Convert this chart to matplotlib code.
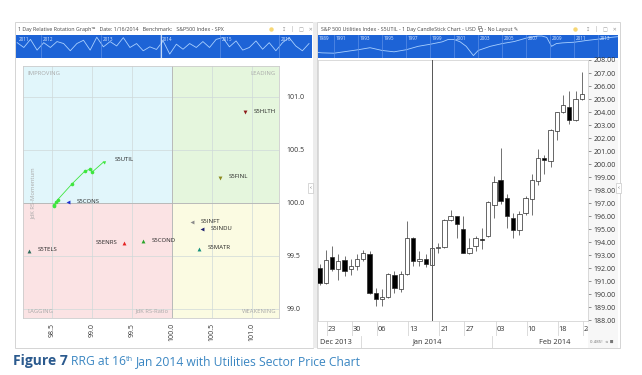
import numpy as np
import pandas as pd
import matplotlib.pyplot as plt
from matplotlib.patches import Rectangle

plt.rcParams['font.family'] = ['Open Sans', 'DejaVu Sans']

W, H = 642, 375

# ---- RRG on 16 Jan 2014 (benchmark S&P 500) ----
sectors = ["S5HLTH", "S5FINL", "S5CONS", "S5INFT", "S5INDU",
           "S5ENRS", "S5COND", "S5MATR", "S5TELS"]
rs_ratio = [100.91, 100.60, 98.70, 100.25, 100.38, 99.40, 99.64, 100.34, 98.21]
rs_momentum = [100.86, 100.24, 100.01, 99.82, 99.75, 99.62, 99.64, 99.57, 99.55]
sector_colors = ["#8e1c1c", "#8c8a1e", "#1f2fd0", "#8a8a8a", "#1d1f6e",
                 "#e52222", "#2aa52a", "#14907c", "#2d6b5c"]
sector_markers = ["v", "v", "<", "<", "<", "^", "^", "^", "^"]

# S5UTIL tail, oldest -> newest
util_ratio = [98.52, 98.53, 98.55, 98.57, 98.75, 98.91, 98.98, 99.00, 99.15]
util_momentum = [99.97, 99.98, 100.01, 100.03, 100.18, 100.30, 100.32, 100.29, 100.39]

# ---- S5UTIL daily candles ----
dates = ["2013-12-19", "2013-12-20", "2013-12-23", "2013-12-24", "2013-12-26",
         "2013-12-27", "2013-12-30", "2013-12-31", "2014-01-02", "2014-01-03",
         "2014-01-06", "2014-01-07", "2014-01-08", "2014-01-09", "2014-01-10",
         "2014-01-13", "2014-01-14", "2014-01-15", "2014-01-16", "2014-01-17",
         "2014-01-21", "2014-01-22", "2014-01-23", "2014-01-24", "2014-01-27",
         "2014-01-28", "2014-01-29", "2014-01-30", "2014-01-31", "2014-02-03",
         "2014-02-04", "2014-02-05", "2014-02-06", "2014-02-07", "2014-02-10",
         "2014-02-11", "2014-02-12", "2014-02-13", "2014-02-14", "2014-02-18",
         "2014-02-19", "2014-02-20", "2014-02-21"]
opens = [192.05, 190.85, 192.87, 191.92, 192.64, 191.92, 192.18, 192.69, 193.08, 190.12,
         189.66, 189.79, 191.46, 190.38, 191.54, 194.31, 192.56, 192.74, 192.25, 193.55,
         193.60, 195.72, 195.98, 195.00, 193.20, 193.72, 194.25, 194.45, 196.85, 198.77,
         197.43, 195.85, 194.92, 196.28, 197.31, 198.72, 200.51, 200.25, 202.56, 203.97,
         204.36, 203.38, 205.00]
highs = [192.30, 193.40, 193.69, 193.08, 192.95, 192.74, 193.08, 193.41, 193.30, 190.50,
         190.40, 191.60, 191.79, 191.80, 195.64, 194.40, 193.33, 193.12, 193.65, 193.97,
         195.80, 196.50, 196.00, 196.00, 194.35, 194.50, 195.08, 197.20, 199.10, 201.23,
         197.70, 196.28, 196.41, 197.55, 199.23, 201.15, 200.69, 202.70, 204.00, 205.31,
         205.64, 205.64, 207.05]
lows = [190.70, 190.80, 191.80, 191.08, 191.41, 191.46, 191.89, 192.54, 190.00, 189.10,
        189.10, 189.70, 190.07, 190.20, 191.50, 192.18, 192.18, 192.10, 192.20, 193.20,
        193.55, 195.60, 194.30, 193.15, 193.08, 193.33, 193.46, 194.40, 195.90, 196.90,
        195.12, 194.35, 194.54, 196.10, 196.10, 198.41, 199.23, 199.79, 201.85, 203.90,
        203.08, 203.30, 204.95]
closes = [190.85, 192.62, 191.92, 192.59, 191.79, 192.18, 192.69, 193.15, 190.12, 189.62,
          189.79, 191.54, 190.50, 191.54, 194.31, 192.56, 192.70, 192.35, 193.54, 193.60,
          195.72, 196.00, 195.38, 193.20, 193.59, 194.35, 194.20, 197.10, 198.66, 197.18,
          196.00, 194.92, 196.15, 197.43, 198.77, 200.51, 200.31, 202.62, 203.97, 204.54,
          203.38, 205.00, 205.38]
rrg_date = "2014-01-16"

# ---- navigator strips ----
rrg_nav = [0.70, 0.48, 0.85, 0.36, 0.70, 0.48, 0.75, 0.66, 0.33, 0.66, 0.81, 0.36,
           0.95, 0.51, 0.75, 0.55, 0.93, 0.48, 0.66, 0.33, 0.51, 0.39, 0.78, 0.18,
           0.63, 0.40, 0.66, 0.48, 0.75, 0.48, 0.85, 0.93, 0.51, 0.78, 0.36, 0.48,
           0.78, 0.40, 0.70, 0.33, 0.70, 0.93, 0.55, 0.33, 0.66]
rrg_nav_years = ["2011", "2012", "2013", "2014", "2015", "2016"]
util_nav_years = [1989.7, 1990, 1991, 1992, 1993, 1994, 1995, 1996, 1997, 1998, 1999,
                  2000, 2000.5, 2001, 2001.5, 2002, 2002.6, 2003, 2004, 2005, 2006,
                  2007, 2007.9, 2008.3, 2008.7, 2009.1, 2009.5, 2010, 2011, 2012,
                  2013, 2014, 2014.6]
util_nav_level = [16, 15, 14, 19, 24, 30, 22, 18, 24, 34, 40, 47, 54, 54, 47, 34, 7,
                  22, 34, 42, 48, 58, 64, 64, 60, 34, 42, 44, 46, 51, 55, 60, 62]

fig = plt.figure(figsize=(W / 100, H / 100), dpi=100)
bg = fig.add_axes([0, 0, 1, 1], zorder=-5)
bg.set_xlim(0, W)
bg.set_ylim(H, 0)
bg.axis("off")
r = fig.canvas.get_renderer()


def px_axes(x0, y0, x1, y1, **kw):
    return fig.add_axes([x0 / W, 1 - y1 / H, (x1 - x0) / W, (y1 - y0) / H], **kw)


# window frames
bg.add_patch(Rectangle((15, 22), 298, 326, fc="white", ec="#d4d4d4", lw=0.7))
bg.add_patch(Rectangle((317, 22), 303, 326, fc="white", ec="#d4d4d4", lw=0.7))
bg.add_patch(Rectangle((313, 22), 4, 326, fc="#ececec", ec="none"))

title_kw = dict(fontsize=3.8, color="#444444", va="center")
bg.text(18, 29, "1 Day Relative Rotation Graph\u2122   Date: 1/16/2014   Benchmark:   S&P500 Index - SPX", **title_kw)
t = bg.text(321, 29, "S&P 500 Utilities Index - S5UTIL - 1 Day CandleStick Chart - USD ", **title_kw)
tx = 321 + t.get_window_extent(renderer=r).width + 1
# small copy icon (the glyph is not in any installed font)
bg.add_patch(Rectangle((tx, 26.2), 2.4, 3.2, fc="none", ec="#555555", lw=0.4))
bg.add_patch(Rectangle((tx + 1.2, 27.6), 2.4, 3.2, fc="white", ec="#555555", lw=0.4))
bg.text(tx + 4.5, 29, " - No Layout \u270E", **title_kw)
for x0 in (271, 575):
    bg.plot(x0, 29, "o", ms=3.2, color="#f7d774", mec="none")
    bg.text(x0 + 11, 29, "\u21a7   \u2502   \u25a1   \u2715", fontsize=3.6, color="#9a9a9a",
            va="center", family="DejaVu Sans")

# ---- RRG navigator ----
nav1 = px_axes(16, 35, 312, 58)
nav1.set_facecolor("#1d63d6")
nx = np.linspace(2011.6, 2016.5, len(rrg_nav))
nav1.plot(nx, rrg_nav, color="#a9d0ff", lw=0.6)
nav1.set_xlim(2011.58, 2016.55)
nav1.set_ylim(0, 1.05)
for yr in rrg_nav_years:
    xv = max(int(yr), 2011.6)
    if int(yr) >= 2012:
        nav1.axvline(int(yr), color="#5b8fe6", lw=0.5)
    nav1.text(xv + 0.03, 0.98, yr, fontsize=3.3, color="#d8e8ff", va="top")
nav1.axvline(2014.02, color="#e8f2ff", lw=0.8, alpha=0.8)
nav1.set_xticks([])
nav1.set_yticks([])
for s in nav1.spines.values():
    s.set_visible(False)

# ---- RRG plot ----
rrg = px_axes(23, 66, 279, 318)
rrg.set_xlim(98.1375, 101.3375)
rrg.set_ylim(98.915, 101.292)
x0, x1 = rrg.get_xlim()
y0, y1 = rrg.get_ylim()
quads = [(x0, 100, "#e1f6fb"), (100, 100, "#e5f6dd"), (x0, y0, "#fbe3e4"), (100, y0, "#fbfbe2")]
for qx, qy, qc in quads:
    wq = (100 - x0) if qx == x0 else (x1 - 100)
    hq = (y1 - 100) if qy == 100 else (100 - y0)
    rrg.add_patch(Rectangle((qx, qy), wq, hq, fc=qc, ec="none", zorder=0))
rrg.set_xticks([98.5, 99.0, 99.5, 100.0, 100.5, 101.0])
rrg.set_yticks([99.0, 99.5, 100.0, 100.5, 101.0])
rrg.grid(color="#cfd9d9", lw=0.5, zorder=1)
rrg.set_axisbelow(True)
rrg.axvline(100, color="#b4b4b4", lw=0.6, zorder=1.5)
rrg.axhline(100, color="#b4b4b4", lw=0.6, zorder=1.5)
rrg.yaxis.tick_right()
rrg.xaxis.set_major_formatter(lambda v, p: f"{v:.1f}")
rrg.yaxis.set_major_formatter(lambda v, p: f"{v:.1f}")
rrg.tick_params(axis="x", length=0, pad=3.5, labelsize=5, labelrotation=90, labelcolor="#333333")
rrg.tick_params(axis="y", length=0, pad=5.5, labelsize=5, labelcolor="#333333")
for s in rrg.spines.values():
    s.set_color("#cccccc")
    s.set_linewidth(0.6)

ql = dict(fontsize=4.2, color="#a9a9a9", transform=rrg.transAxes, va="center")
rrg.text(0.018, 0.972, "IMPROVING", ha="left", **ql)
rrg.text(0.988, 0.972, "LEADING", ha="right", **ql)
rrg.text(0.018, 0.024, "LAGGING", ha="left", **ql)
rrg.text(0.988, 0.024, "WEAKENING", ha="right", **ql)
rrg.text(0.504, 0.028, "JdK RS-Ratio", ha="center", **ql)
rrg.text(0.039, 0.496, "JdK RS-Momentum", ha="center", rotation=90, **ql)

# utilities tail
rrg.plot(util_ratio, util_momentum, color="#3ee63e", lw=0.6, zorder=3)
rrg.plot(util_ratio[:-1], util_momentum[:-1], "o", color="#3ee63e", ms=2.6, mec="none", zorder=4)
p_prev = rrg.transData.transform((util_ratio[-2], util_momentum[-2]))
p_head = rrg.transData.transform((util_ratio[-1], util_momentum[-1]))
ang = np.degrees(np.arctan2(p_head[1] - p_prev[1], p_head[0] - p_prev[0])) - 90
rrg.plot(util_ratio[-1], util_momentum[-1], marker=(3, 0, ang), color="#3ee63e", ms=3, mec="none", zorder=4)
rrg.annotate("S5UTIL", (util_ratio[-1], util_momentum[-1]), xytext=(7.5, 1.2),
             textcoords="offset points", fontsize=4.3, va="center", color="#222222")

for name, xr, ym, c, m in zip(sectors, rs_ratio, rs_momentum, sector_colors, sector_markers):
    rrg.plot(xr, ym, marker=m, color=c, ms=2.8, mec="none", zorder=4)
    if name == "S5ENRS":
        off, ha = (-4.5, 0.5), "right"
    else:
        off, ha = (6.3, 0.5), "left"
    rrg.annotate(name, (xr, ym), xytext=off, textcoords="offset points",
                 fontsize=4.3, va="center", ha=ha, color="#222222")

# ---- utilities navigator ----
nav2 = px_axes(318, 35, 618, 58)
nav2.set_facecolor("#1d63d6")
nav2.plot(util_nav_years, util_nav_level, color="#a9d0ff", lw=0.6)
nav2.set_xlim(1989.67, 2014.63)
nav2.set_ylim(0, 67)
nav2.text(1989.75, 64, "1989", fontsize=3.3, color="#d8e8ff", va="top")
for yr in range(1991, 2014, 2):
    nav2.axvline(yr, color="#5b8fe6", lw=0.5)
    nav2.text(yr + 0.1, 64, str(yr), fontsize=3.3, color="#d8e8ff", va="top")
nav2.set_xticks([])
nav2.set_yticks([])
for s in nav2.spines.values():
    s.set_visible(False)

# ---- candlestick chart ----
cax = px_axes(318, 60, 588, 321)
idx = np.arange(len(dates))
o = np.array(opens)
c = np.array(closes)
cax.vlines(idx, lows, highs, color="#5a5a5a", lw=0.6, zorder=2)
body_bottom = np.minimum(o, c)
body_height = np.maximum(np.abs(c - o), 0.05)
body_color = ["white" if cc >= oo else "black" for oo, cc in zip(o, c)]
cax.bar(idx, body_height, bottom=body_bottom, width=0.7, color=body_color,
        edgecolor="#2a2a2a", lw=0.5, zorder=3)
cax.set_xlim(-0.25, 43)
cax.set_ylim(187.95, 207.95)
cax.axvline(dates.index(rrg_date), color="#555555", lw=0.7, zorder=4)
cax.set_xticks([])
cax.yaxis.tick_right()
cax.set_yticks(np.arange(188, 209))
cax.yaxis.set_major_formatter(lambda v, p: f"{v:.2f}")
cax.tick_params(axis="y", length=2.2, width=0.5, color="#666666", pad=1.6,
                labelsize=5, labelcolor="#333333")
for s in cax.spines.values():
    s.set_color("#d4d4d4")
    s.set_linewidth(0.6)
bg.add_patch(Rectangle((588, 60), 30, 288, fc="#f7f7f7", ec="none"))

# day row and month row
dts = pd.to_datetime(dates)
dax = px_axes(318, 321, 588, 336)
dax.set_xlim(cax.get_xlim())
dax.set_ylim(0, 1)
dax.axis("off")
week_starts = [i for i in range(1, len(dts)) if dts[i].weekday() < dts[i - 1].weekday()]
next_week = dts[-1] + pd.Timedelta(days=3)
for i in week_starts + [len(dts)]:
    day = dts[i].day if i < len(dts) else next_week.day
    dax.axvline(i - 0.8, color="#d6d6d6", lw=0.6)
    dax.text(i, 0.45, f"{day:02d}", ha="center", va="center", fontsize=5.3,
             color="#333333", clip_on=True)
dax.axhline(0, color="#d6d6d6", lw=0.6)

max_ = px_axes(318, 336, 588, 348)
max_.set_xlim(cax.get_xlim())
max_.set_ylim(0, 1)
max_.axis("off")
month_first = [i for i in range(1, len(dts)) if dts[i].month != dts[i - 1].month]
for i in month_first:
    max_.axvline(i - 1.3, color="#d6d6d6", lw=0.6)
max_.text(0.0, 0.5, dts[0].strftime("%b %Y"), ha="left", va="center", fontsize=5.3, color="#333333")
for i, j in zip(month_first, month_first[1:] + [len(dts) + 6]):
    mid = (i + j) / 2 - 1.3
    max_.text(mid, 0.5, dts[i].strftime("%b %Y"), ha="center", va="center",
              fontsize=5.3, color="#333333")
bg.text(590, 342, "0.485!  \u221e \u25a0", fontsize=2.8, color="#777777", va="center",
        family="DejaVu Sans")
bg.plot([318, 618], [348, 348], color="#d6d6d6", lw=0.6)

# collapse buttons (drawn over the panels)
top = fig.add_axes([0, 0, 1, 1], zorder=10)
top.set_xlim(0, W)
top.set_ylim(H, 0)
top.axis("off")
for bx in (308, 616):
    top.add_patch(Rectangle((bx, 183), 4.5, 10, fc="white", ec="#c8c8c8", lw=0.5))
    top.text(bx + 2.25, 188, "\u2039", fontsize=4.5, color="#666666", ha="center", va="center")

# ---- caption ----
cx = 13
pieces = [("Figure 7", dict(fontsize=10, fontweight="bold", color="#2b5a8e"), 0, 3),
          ("RRG at 16", dict(fontsize=8.7, color="#3a86c2"), 0, 0.3),
          ("th", dict(fontsize=5.2, color="#3a86c2"), -4, 2.2),
          ("Jan 2014 with Utilities Sector Price Chart", dict(fontsize=8.7, color="#3a86c2"), 0, 0)]
for txt, kw, dy, gap in pieces:
    t = bg.text(cx, 365 + dy, txt, ha="left", va="baseline", **kw)
    cx += t.get_window_extent(renderer=r).width + gap

fig.savefig("out.png", dpi=100)
